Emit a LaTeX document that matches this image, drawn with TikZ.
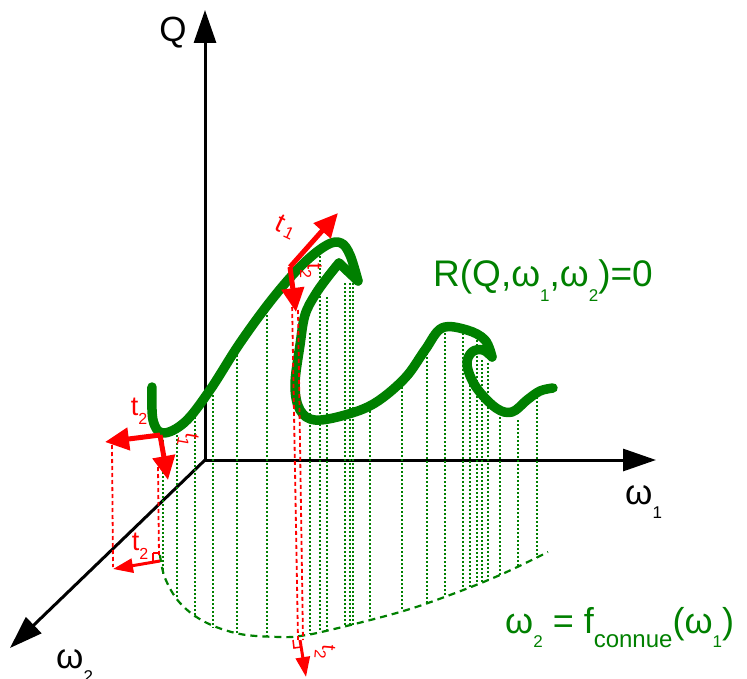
\documentclass[tikz,border=0pt]{standalone}
\usepackage{fontspec}
\setmainfont{Liberation Sans}
\definecolor{curvegreen}{RGB}{0,128,0}
\definecolor{tanred}{RGB}{255,0,0}
\usetikzlibrary{arrows.meta}
\newcommand{\sbs}[1]{\raisebox{-0.4em}{\fontsize{17}{17}\selectfont #1}}
\newcommand{\sbt}[1]{\raisebox{-0.35em}{\fontsize{16}{16}\selectfont #1}}

\begin{document}
\begin{tikzpicture}[
  x=1pt,y=-1pt,
  axis/.style={-{Triangle[length=33pt,width=22pt]},line width=3pt,black},
  axlabel/.style={font=\fontsize{35}{40}\selectfont,inner sep=0pt},
  eqlabel/.style={font=\fontsize{37}{42}\selectfont,text=curvegreen,inner sep=0pt},
  surface/.style={line width=9.5pt,curvegreen,line cap=round,line join=round},
  proj/.style={curvegreen,line width=1.2pt,dash pattern=on 2pt off 2pt},
  trace/.style={curvegreen,line width=2.2pt,dash pattern=on 7pt off 5pt},
  tangent/.style={-{Triangle[length=24pt,width=22pt]},line width=5pt,tanred},
  tproj/.style={tanred,line width=1.8pt,dash pattern=on 4pt off 3pt},
  tlabel/.style={font=\fontsize{27}{27}\selectfont,text=tanred,inner sep=0pt}
]
\useasboundingbox (0,0) rectangle (747,679);

% axes
\coordinate (O) at (205,460);
\coordinate (Qtip) at (205,10);
\coordinate (W1tip) at (656,460);
\coordinate (W2tip) at (10,648);
\draw[axis] (O) -- (Qtip);
\draw[axis] (O) -- (W1tip);
\draw[axis] (O) -- (W2tip);
\node[axlabel] (lQ) at (173,33) {Q};
\node[axlabel,anchor=base west] (lW1) at (625,504) {ω\sbs{1}};
\node[axlabel,anchor=base west] (lW2) at (56,668) {ω\sbs{2}};

% projection lines down to the known curve
\foreach \x/\a/\b in {163/440/575,177/435/598,195/413/617,213/387/628,
  237/347/634,267/307/637,310/333/634,320/252/632,327/297/631,
  345/283/627,350/283/626,353/283/625,370/407/621,402/383/611,
  427/353/603,445/333/596,463/333/589,470/353/587,477/340/584,
  482/360/582,488/363/580,500/417/575,518/420/566,537/397/558}
  \draw[proj] (\x,\a) -- (\x,\b);

% known curve w2 = f(w1)
\draw[trace] plot[smooth,tension=0.6] coordinates {(160,555) (165,578) (180,603)
  (205,622) (240,634) (280,637) (300,636) (330,630) (400,612) (450,595)
  (500,575) (548,552)};

% surface curve R = 0
\draw[surface] plot[smooth,tension=0.6] coordinates {(152,387) (153,420) (163,433)
  (185,422) (210,390) (240,343) (273,298) (303,264) (327,245) (341,243)
  (350,255) (358,281)};
\draw[surface] (358,281) -- (339,263);
\draw[surface] plot[smooth,tension=0.6] coordinates {(339,263) (327,278)
  (315,295) (305,315) (300,345) (295,385) (300,410) (315,420) (345,415)
  (375,403) (405,378) (425,350) (442,328) (467,330) (485,340) (492,357)};
\draw[surface] plot[smooth,tension=0.6] coordinates {(492,357) (483,350) (472,352)
  (467,365) (476,387) (496,408) (512,412) (527,400) (540,391) (553,388)};
\node[eqlabel,anchor=base west] (lR) at (433,287) {R(Q,ω\sbs{1},ω\sbs{2})=0};
\node[eqlabel,anchor=base west,font=\fontsize{36}{40}\selectfont] (lF) at (505,633)
  {ω\sbs{2} = f\raisebox{-0.4em}{\fontsize{24}{24}\selectfont connue}(ω\sbs{1})};

% tangents at the top point
\coordinate (P) at (290,267);
\coordinate (Pt1) at (338,213);
\coordinate (Pt2) at (296,312);
\draw[tproj] (292,300) -- (298,640);
\draw[tproj] (298,310) -- (303,640);
\draw[tangent] (P) -- (Pt1);
\draw[tangent] (P) -- (Pt2);
\node[tlabel,rotate=-25] (lt1) at (286,227)
  {t\kern3pt\raisebox{-0.12em}{\fontsize{17}{17}\selectfont 1}};
\node[tlabel,rotate=-90,font=\fontsize{22}{22}\selectfont] (lt2) at (311,271) {t\sbt{2}};
\coordinate (Pb) at (300,640);
\coordinate (Pbt) at (306,677);
\draw[tanred,line width=1.5pt] (293,640) -- (294,648) -- (301,647);
\draw[tangent,line width=3pt,-{Triangle[length=20pt,width=14pt]}] (Pb) -- (Pbt);
\node[tlabel,rotate=-95,font=\fontsize{20}{20}\selectfont] (lt2b) at (325,652) {t\sbt{2}};

% tangents at the left point
\coordinate (L) at (160,435);
\coordinate (Lt1) at (168,480);
\coordinate (Lt2) at (105,442);
\draw[tproj] (112,445) -- (113,567);
\draw[tproj] (158,467) -- (159,556);
\draw[tangent] (L) -- (Lt2);
\draw[tangent] (L) -- (Lt1);
\node[tlabel] (lt2l) at (139,411) {t\sbt{2}};
\node[tlabel,rotate=-100,font=\fontsize{20}{20}\selectfont] (lt1l) at (188,440) {t\sbt{1}};
\coordinate (Lb) at (160,561);
\coordinate (Lbt) at (113,569);
\draw[tanred,line width=1.5pt] (153,553) -- (153,561);
\draw[tanred,line width=1.5pt] (153,553) -- (160,553);
\draw[tangent,line width=3pt,-{Triangle[length=20pt,width=14pt]}] (Lb) -- (Lbt);
\node[tlabel] (lt2lb) at (140,546) {t\sbt{2}};
\end{tikzpicture}
\end{document}
